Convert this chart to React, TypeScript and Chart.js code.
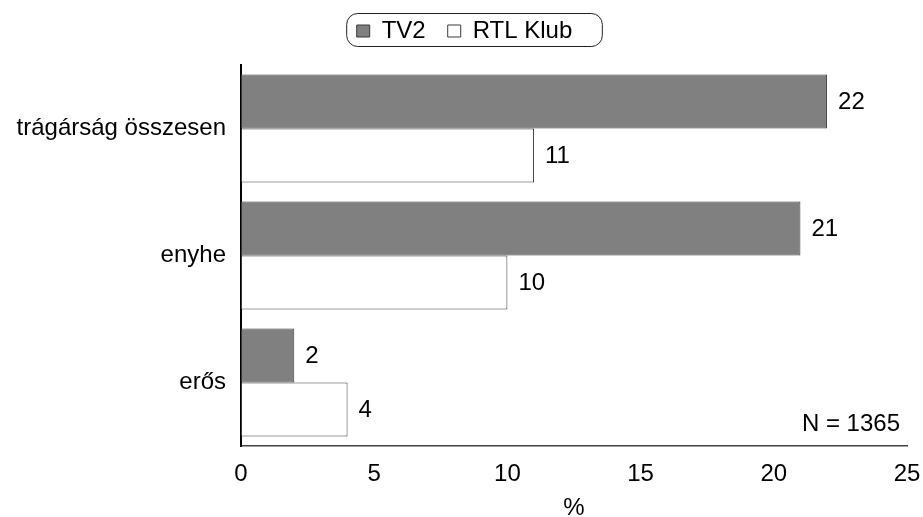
import React, { useEffect, useRef } from "react";
import { Chart, registerables } from "chart.js";

Chart.register(...registerables);

const categories = ["trágárság összesen", "enyhe", "erős"];
const seriesNames = ["TV2", "RTL Klub"];
const tv2Values = [22, 21, 2];
const rtlValues = [11, 10, 4];
const xTicks = [0, 5, 10, 15, 20, 25];
const noteText = "N = 1365";
const axisTitle = "%";

const FONT = "'Liberation Sans', Arial, Helvetica, sans-serif";
const FS = 24;

export default function App() {
  const ref = useRef<HTMLCanvasElement | null>(null);

  useEffect(() => {
    if (!ref.current) return;

    const legendFitPlugin = {
      id: "legendFit",
      beforeLayout(chart: any) {
        const lg = chart.legend;
        if (lg && !lg.__patched) {
          const orig = lg.fit;
          lg.fit = function () {
            orig.call(this);
            this.height = 65;
          };
          lg.__patched = true;
        }
      },
      afterLayout(chart: any) {
        const lg = chart.legend;
        if (lg) {
          lg.left += 11;
          lg.right += 11;
          lg.top -= 3;
          lg.bottom -= 3;
        }
      },
    };

    const decorPlugin = {
      id: "decor",
      afterDraw(chart: any) {
        const ctx = chart.ctx;
        const lg = chart.legend;
        if (lg && lg.legendHitBoxes && lg.legendHitBoxes.length) {
          const boxes = lg.legendHitBoxes;
          let l = Infinity, r = -Infinity;
          boxes.forEach((b: any) => {
            l = Math.min(l, b.left);
            r = Math.max(r, b.left + b.width);
          });
          const x0 = l - 10, x1 = r + 30, y0 = 13, y1 = 46, rad = 11;
          ctx.save();
          ctx.strokeStyle = "#222";
          ctx.lineWidth = 1;
          ctx.beginPath();
          ctx.moveTo(x0 + rad, y0 + 0.5);
          ctx.lineTo(x1 - rad, y0 + 0.5);
          ctx.arcTo(x1, y0 + 0.5, x1, y1, rad);
          ctx.arcTo(x1, y1 + 0.5, x0, y1 + 0.5, rad);
          ctx.arcTo(x0, y1 + 0.5, x0, y0, rad);
          ctx.arcTo(x0, y0 + 0.5, x1, y0 + 0.5, rad);
          ctx.closePath();
          ctx.stroke();
          ctx.restore();
        }
        const ca = chart.chartArea;
        ctx.save();
        ctx.font = `${FS}px ${FONT}`;
        ctx.fillStyle = "#000";
        ctx.textAlign = "right";
        ctx.textBaseline = "middle";
        ctx.fillText(noteText, ca.right - 7, ca.bottom - 22);
        ctx.restore();
      },
      afterDatasetsDraw(chart: any) {
        const ctx = chart.ctx;
        ctx.save();
        ctx.font = `${FS}px ${FONT}`;
        ctx.fillStyle = "#000";
        ctx.textAlign = "left";
        ctx.textBaseline = "middle";
        chart.data.datasets.forEach((ds: any, di: number) => {
          const meta = chart.getDatasetMeta(di);
          meta.data.forEach((bar: any, i: number) => {
            ctx.fillText(String(ds.data[i]), bar.x + 11, bar.y + 1);
          });
        });
        ctx.restore();
      },
    };

    const chart = new Chart(ref.current, {
      type: "bar",
      data: {
        labels: categories,
        datasets: [
          {
            label: seriesNames[0],
            data: tv2Values,
            backgroundColor: "#808080",
            borderColor: "#3a3a3a",
            borderWidth: 1,
            borderSkipped: false,
            categoryPercentage: 0.85,
            barPercentage: 1,
          },
          {
            label: seriesNames[1],
            data: rtlValues,
            backgroundColor: "#ffffff",
            borderColor: "#3a3a3a",
            borderWidth: 1,
            borderSkipped: false,
            categoryPercentage: 0.85,
            barPercentage: 1,
          },
        ],
      },
      options: {
        indexAxis: "y",
        animation: false,
        responsive: false,
        maintainAspectRatio: false,
        layout: { padding: { left: 0, right: 16, top: 0, bottom: 0 } },
        plugins: {
          tooltip: { enabled: false },
          legend: {
            display: true,
            position: "top",
            labels: {
              font: { family: FONT, size: FS },
              color: "#000",
              boxWidth: 13,
              boxHeight: 12,
              padding: 22,
            },
          },
        },
        scales: {
          x: {
            type: "linear",
            min: 0,
            max: 25,
            afterBuildTicks(scale: any) {
              scale.ticks = xTicks.map((v) => ({ value: v }));
            },
            afterFit(scale: any) {
              scale.height = 71;
              scale.paddingLeft = 0;
              scale.paddingRight = 0;
            },
            grid: { display: false, drawTicks: false },
            border: { display: true, color: "#444", width: 1.5 },
            ticks: {
              font: { family: FONT, size: FS },
              color: "#000",
              padding: 14,
              maxRotation: 0,
            },
            title: {
              display: true,
              text: axisTitle,
              font: { family: FONT, size: FS },
              color: "#000",
              padding: { top: 0, bottom: -6 },
            },
          },
          y: {
            afterFit(scale: any) {
              scale.width = 241;
            },
            grid: { display: false, drawTicks: false },
            border: { display: true, color: "#000", width: 2 },
            ticks: {
              font: { family: FONT, size: FS },
              color: "#000",
              padding: 15,
            },
          },
        },
      },
      plugins: [legendFitPlugin, decorPlugin],
    } as any);

    return () => chart.destroy();
  }, []);

  return (
    <div style={{ position: "fixed", left: 0, top: 0, width: 923, height: 517, background: "#fff" }}>
      <canvas ref={ref} width={923} height={517} style={{ display: "block" }} />
    </div>
  );
}
